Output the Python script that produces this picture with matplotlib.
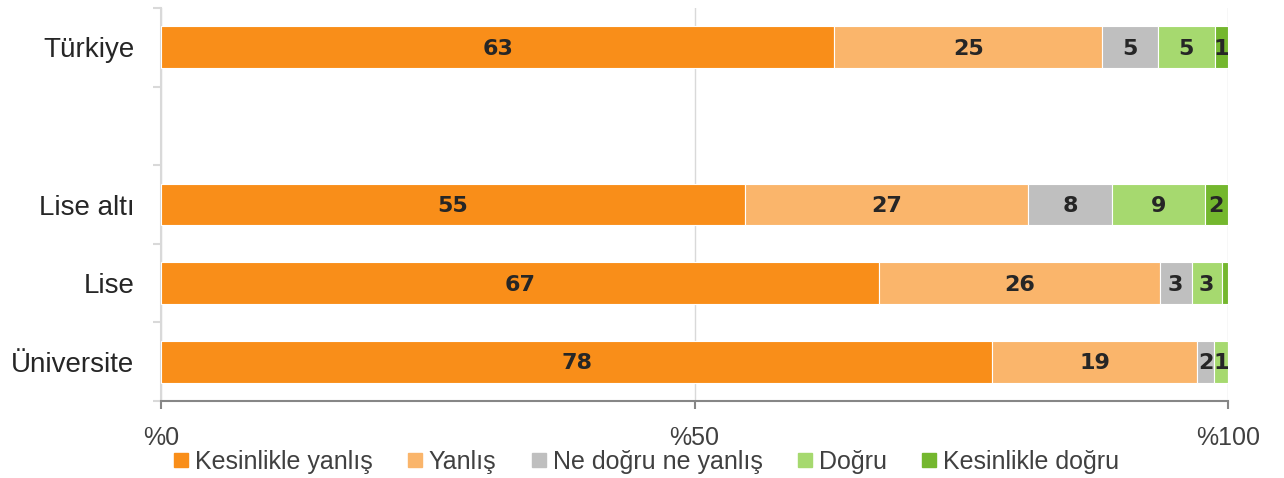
import numpy as np
import matplotlib
matplotlib.use("Agg")
import matplotlib.pyplot as plt
from matplotlib.lines import Line2D

plt.rcParams["font.family"] = ["Liberation Sans", "DejaVu Sans"]

# data (percent, unrounded estimates)
categories = ["Türkiye", "Lise altı", "Lise", "Üniversite"]
series_names = ["Kesinlikle yanlış", "Yanlış", "Ne doğru ne yanlış", "Doğru", "Kesinlikle doğru"]
kesinlikle_yanlis = [63.1, 54.7, 67.3, 77.9]
yanlis = [25.1, 26.6, 26.3, 19.2]
ne_dogru_ne_yanlis = [5.2, 7.8, 3.0, 1.6]
dogru = [5.4, 8.7, 2.8, 1.3]
kesinlikle_dogru = [1.2, 2.2, 0.6, 0.0]
xtick_values = [0, 50, 100]
xtick_labels = ["%0", "%50", "%100"]

colors = ["#F98E19", "#FAB56B", "#BFBFBF", "#A6D96F", "#74B72E"]

# slot layout: Türkiye, empty gap, then education groups
positions = [0, 2, 3, 4]
n_slots = 5

fig = plt.figure(figsize=(12.84, 4.78), dpi=100)
ax = fig.add_axes([161 / 1284, 1 - 401 / 478, 1067 / 1284, 393 / 478])

series = [kesinlikle_yanlis, yanlis, ne_dogru_ne_yanlis, dogru, kesinlikle_dogru]
left = np.zeros(len(categories))
for vals, color in zip(series, colors):
    vals = np.array(vals)
    ax.barh(positions, vals, left=left, height=0.53, color=color,
            edgecolor="white", linewidth=0.8, zorder=3)
    for y, v, l in zip(positions, vals, left):
        if v >= 1.0:
            ax.text(l + v / 2, y + 0.02, f"{v:.0f}", ha="center", va="center",
                    fontsize=16, fontweight="bold", color="#262626",
                    family="DejaVu Sans", zorder=4)
    left += vals

ax.set_xlim(0, 100)
ax.set_ylim(n_slots - 0.5, -0.5)

# y axis: labels without major ticks, minor ticks at slot boundaries
ax.set_yticks(positions)
ax.set_yticklabels(categories, fontsize=20, color="#262626")
ax.set_yticks(np.arange(-0.5, n_slots, 1), minor=True)
ax.tick_params(axis="y", which="major", length=0, pad=19)
ax.tick_params(axis="y", which="minor", length=6, width=1.5, color="#D9D9D9")

ax.set_xticks(xtick_values)
ax.set_xticklabels(xtick_labels, fontsize=18, color="#404040")
ax.tick_params(axis="x", length=6, width=1.5, color="#868686", pad=12)

ax.xaxis.grid(True, color="#D9D9D9", linewidth=1, zorder=0)
ax.set_axisbelow(True)

for side in ["top", "right"]:
    ax.spines[side].set_visible(False)
ax.spines["left"].set_color("#D9D9D9")
ax.spines["left"].set_linewidth(1.5)
ax.spines["bottom"].set_color("#868686")
ax.spines["bottom"].set_linewidth(1.5)

handles = [Line2D([], [], marker="s", linestyle="none", markersize=10,
                  markerfacecolor=c, markeredgecolor=c) for c in colors]
fig.legend(handles, series_names, loc="center", bbox_to_anchor=(0.5035, 1 - 462 / 478),
           ncol=5, frameon=False, fontsize=18, handlelength=0.6, handletextpad=0.25,
           columnspacing=1.4, labelcolor="#404040", borderpad=0)

fig.savefig("out.png", dpi=100)
